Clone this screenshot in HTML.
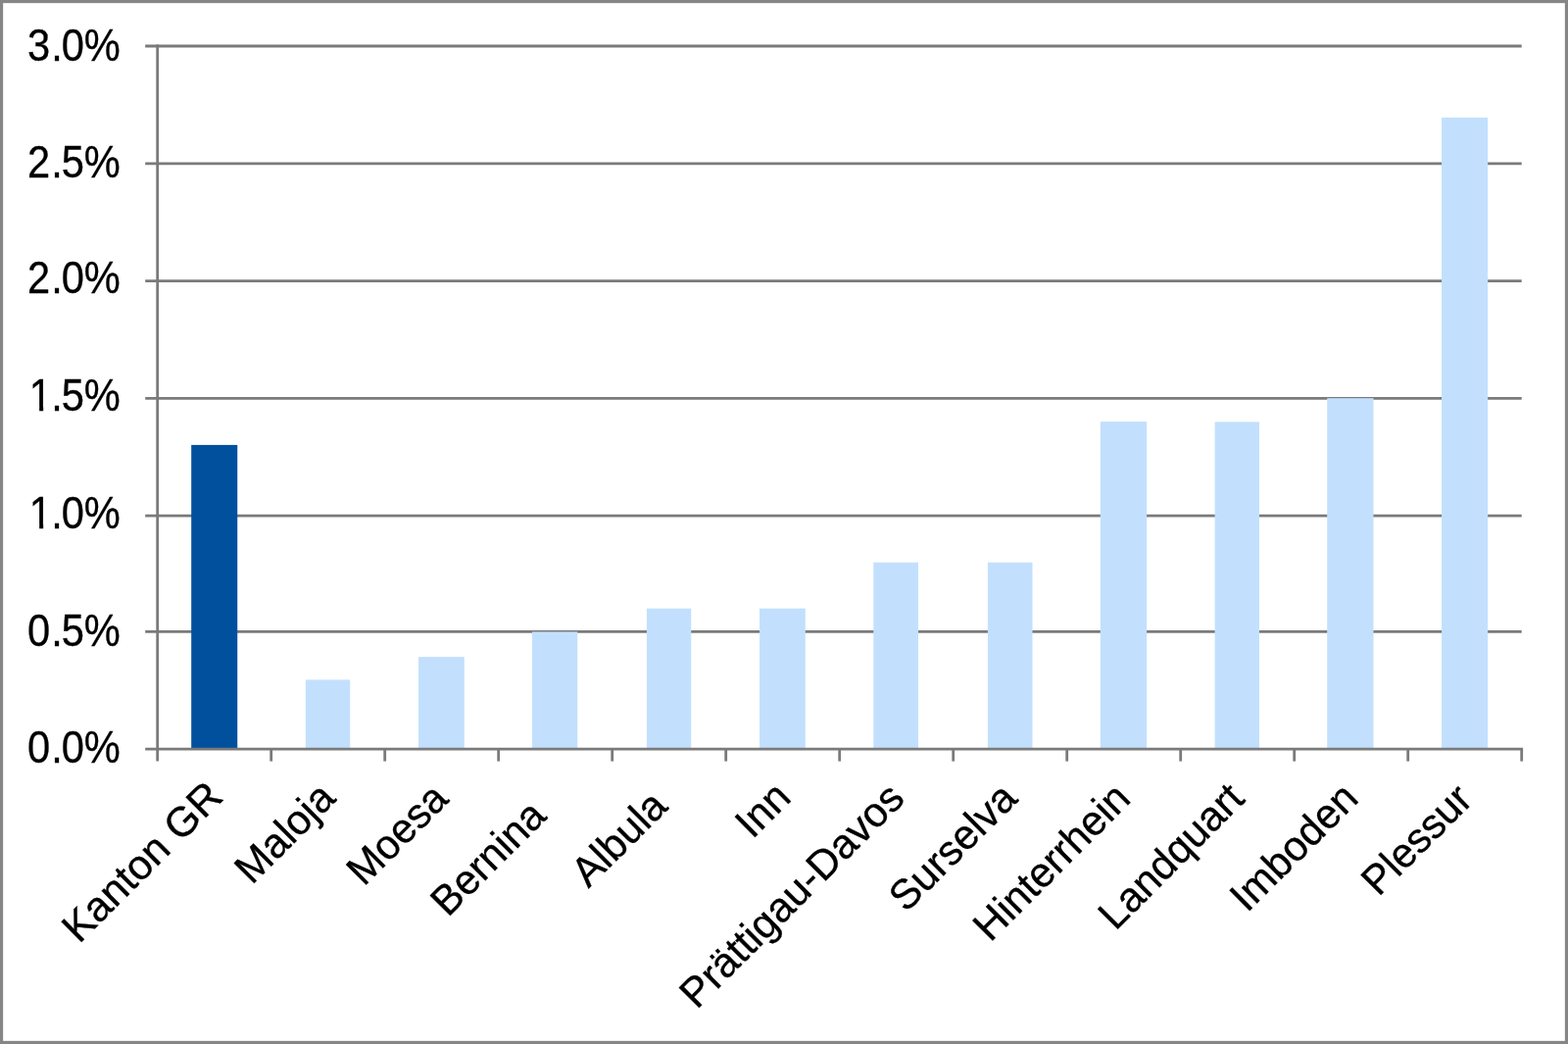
<!DOCTYPE html>
<html lang="de"><head><meta charset="utf-8"><title>Chart</title>
<style>html,body{margin:0;padding:0;background:#fff}svg{display:block}text{font-family:"Liberation Sans",sans-serif;fill:#000}</style></head><body>
<svg width="1600" height="1065" viewBox="0 0 1600 1065">
<rect x="0" y="0" width="1600" height="1065" fill="#fff"/>
<rect x="1.575" y="1.575" width="1596.85" height="1061.85" fill="none" stroke="#868686" stroke-width="3.15"/>
<line x1="148.2" y1="644.40" x2="1552.7" y2="644.40" stroke="#7a7a7a" stroke-width="2.8"/>
<line x1="148.2" y1="526.20" x2="1552.7" y2="526.20" stroke="#7a7a7a" stroke-width="2.8"/>
<line x1="148.2" y1="406.30" x2="1552.7" y2="406.30" stroke="#7a7a7a" stroke-width="2.8"/>
<line x1="148.2" y1="286.60" x2="1552.7" y2="286.60" stroke="#7a7a7a" stroke-width="2.8"/>
<line x1="148.2" y1="166.85" x2="1552.7" y2="166.85" stroke="#7a7a7a" stroke-width="2.8"/>
<line x1="148.2" y1="47.00" x2="1552.7" y2="47.00" stroke="#7a7a7a" stroke-width="2.8"/>
<rect x="195.20" y="453.90" width="47.05" height="310.20" fill="#00509E"/>
<rect x="311.90" y="693.40" width="45.35" height="70.70" fill="#C2E0FE"/>
<rect x="427.05" y="670.10" width="46.75" height="94.00" fill="#C2E0FE"/>
<rect x="543.05" y="644.50" width="46.20" height="119.60" fill="#C2E0FE"/>
<rect x="659.90" y="620.70" width="45.35" height="143.40" fill="#C2E0FE"/>
<rect x="775.05" y="620.70" width="46.75" height="143.40" fill="#C2E0FE"/>
<rect x="891.30" y="573.70" width="45.70" height="190.40" fill="#C2E0FE"/>
<rect x="1007.90" y="573.70" width="45.60" height="190.40" fill="#C2E0FE"/>
<rect x="1122.80" y="430.10" width="47.30" height="334.00" fill="#C2E0FE"/>
<rect x="1239.60" y="430.40" width="45.40" height="333.70" fill="#C2E0FE"/>
<rect x="1354.20" y="406.20" width="47.30" height="357.90" fill="#C2E0FE"/>
<rect x="1471.05" y="119.90" width="47.05" height="644.20" fill="#C2E0FE"/>
<line x1="148.2" y1="764.10" x2="1554.10" y2="764.10" stroke="#7a7a7a" stroke-width="2.8"/>
<line x1="160.7" y1="45.60" x2="160.7" y2="776.60" stroke="#7a7a7a" stroke-width="2.8"/>
<line x1="276.70" y1="764.10" x2="276.70" y2="776.60" stroke="#7a7a7a" stroke-width="2.8"/>
<line x1="392.70" y1="764.10" x2="392.70" y2="776.60" stroke="#7a7a7a" stroke-width="2.8"/>
<line x1="508.70" y1="764.10" x2="508.70" y2="776.60" stroke="#7a7a7a" stroke-width="2.8"/>
<line x1="624.70" y1="764.10" x2="624.70" y2="776.60" stroke="#7a7a7a" stroke-width="2.8"/>
<line x1="740.70" y1="764.10" x2="740.70" y2="776.60" stroke="#7a7a7a" stroke-width="2.8"/>
<line x1="856.70" y1="764.10" x2="856.70" y2="776.60" stroke="#7a7a7a" stroke-width="2.8"/>
<line x1="972.70" y1="764.10" x2="972.70" y2="776.60" stroke="#7a7a7a" stroke-width="2.8"/>
<line x1="1088.70" y1="764.10" x2="1088.70" y2="776.60" stroke="#7a7a7a" stroke-width="2.8"/>
<line x1="1204.70" y1="764.10" x2="1204.70" y2="776.60" stroke="#7a7a7a" stroke-width="2.8"/>
<line x1="1320.70" y1="764.10" x2="1320.70" y2="776.60" stroke="#7a7a7a" stroke-width="2.8"/>
<line x1="1436.70" y1="764.10" x2="1436.70" y2="776.60" stroke="#7a7a7a" stroke-width="2.8"/>
<line x1="1552.70" y1="764.10" x2="1552.70" y2="776.60" stroke="#7a7a7a" stroke-width="2.8"/>
<text transform="translate(27.97,778.10) scale(0.98,1.08)" font-size="42.5" stroke="#000" stroke-width="0.3"><tspan dx="0.00">0</tspan><tspan dx="1.12">.</tspan><tspan dx="-1.12">0%</tspan></text>
<text transform="translate(27.97,658.80) scale(0.98,1.08)" font-size="42.5" stroke="#000" stroke-width="0.3"><tspan dx="0.00">0</tspan><tspan dx="1.12">.</tspan><tspan dx="-1.12">5%</tspan></text>
<text transform="translate(27.97,538.80) scale(0.98,1.08)" font-size="42.5" stroke="#000" stroke-width="0.3"><tspan dx="1.94">1</tspan><tspan dx="-0.82">.</tspan><tspan dx="-1.12">0%</tspan></text>
<rect x="31.54" y="534.77" width="8.62" height="5.83" fill="#fff"/>
<rect x="44.20" y="534.77" width="8.48" height="5.83" fill="#fff"/>
<text transform="translate(27.97,418.80) scale(0.98,1.08)" font-size="42.5" stroke="#000" stroke-width="0.3"><tspan dx="1.94">1</tspan><tspan dx="-0.82">.</tspan><tspan dx="-1.12">5%</tspan></text>
<rect x="31.54" y="414.77" width="8.62" height="5.83" fill="#fff"/>
<rect x="44.20" y="414.77" width="8.48" height="5.83" fill="#fff"/>
<text transform="translate(27.97,299.00) scale(0.98,1.08)" font-size="42.5" stroke="#000" stroke-width="0.3"><tspan dx="0.00">2</tspan><tspan dx="1.12">.</tspan><tspan dx="-1.12">0%</tspan></text>
<text transform="translate(27.97,181.20) scale(0.98,1.08)" font-size="42.5" stroke="#000" stroke-width="0.3"><tspan dx="0.00">2</tspan><tspan dx="1.12">.</tspan><tspan dx="-1.12">5%</tspan></text>
<text transform="translate(27.97,61.50) scale(0.98,1.08)" font-size="42.5" stroke="#000" stroke-width="0.3"><tspan dx="0.00">3</tspan><tspan dx="1.12">.</tspan><tspan dx="-1.12">0%</tspan></text>
<text transform="translate(80.82,963.58) rotate(-45) scale(1.0,1)" font-size="42.5" stroke="#000" stroke-width="0.35">Kanton GR</text>
<text transform="translate(256.97,903.43) rotate(-45) scale(0.987,1)" font-size="42.5" stroke="#000" stroke-width="0.35">Maloja</text>
<text transform="translate(371.30,905.10) rotate(-45) scale(0.977,1)" font-size="42.5" stroke="#000" stroke-width="0.35">Moesa</text>
<text transform="translate(456.91,936.49) rotate(-45) scale(0.987,1)" font-size="42.5" stroke="#000" stroke-width="0.35">Bernina</text>
<text transform="translate(600.55,906.85) rotate(-45) scale(0.987,1)" font-size="42.5" stroke="#000" stroke-width="0.35">Albula</text>
<text transform="translate(767.71,856.69) rotate(-45) scale(0.987,1)" font-size="42.5" stroke="#000" stroke-width="0.35">Inn</text>
<text transform="translate(711.02,1030.38) rotate(-45) scale(0.9925,1)" font-size="42.5" stroke="#000" stroke-width="0.35">Prättigau-Davos</text>
<text transform="translate(924.57,931.83) rotate(-45) scale(0.987,1)" font-size="42.5" stroke="#000" stroke-width="0.35">Surselva</text>
<text transform="translate(1010.51,961.89) rotate(-45) scale(0.987,1)" font-size="42.5" stroke="#000" stroke-width="0.35">Hinterrhein</text>
<text transform="translate(1138.14,950.26) rotate(-45) scale(0.987,1)" font-size="42.5" stroke="#000" stroke-width="0.35">Landquart</text>
<text transform="translate(1272.54,931.86) rotate(-45) scale(0.987,1)" font-size="42.5" stroke="#000" stroke-width="0.35">Imboden</text>
<text transform="translate(1406.69,915.41) rotate(-45) scale(0.975,1)" font-size="42.5" stroke="#000" stroke-width="0.35">Plessur</text>
</svg></body></html>
